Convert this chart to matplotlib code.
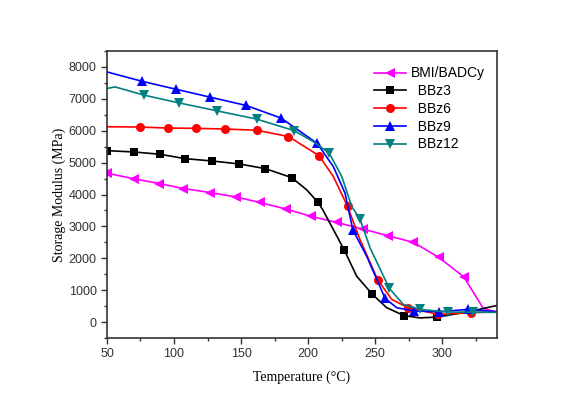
import matplotlib
matplotlib.use("Agg")
import matplotlib.pyplot as plt
from matplotlib.ticker import MultipleLocator

# ---- data (T in °C, E' in MPa) ----
bmi_T = [50, 70.4, 89.0, 106.9, 126.9, 146.3, 164.2, 183.6, 202.5, 221.4, 240.8, 259.5, 278.6, 297.5, 316.2, 330.8, 341]
bmi_E = [4669, 4491, 4344, 4188, 4063, 3922, 3750, 3544, 3313, 3125, 2919, 2709, 2500, 2031, 1419, 428, 313]
bmi_mk = list(range(0, 15))

bbz3_T = [50, 70.1, 89.6, 108.2, 128.1, 148.5, 168.1, 187.8, 199.0, 207.4, 211.0, 227.0, 236.3, 248.1, 258.7, 271.8, 283.6, 296.5, 320.9, 341]
bbz3_E = [5375, 5334, 5262, 5125, 5053, 4959, 4812, 4531, 4147, 3756, 3522, 2263, 1438, 866, 450, 200, 131, 156, 334, 520]
bbz3_mk = [0, 1, 2, 3, 4, 5, 6, 7, 9, 11, 13, 15, 17]

bbz6_T = [50, 74.6, 95.3, 116.4, 138.1, 161.7, 185.4, 208.2, 218.9, 229.5, 238.8, 252.0, 262.5, 274.6, 297.2, 321.4, 341]
bbz6_E = [6125, 6116, 6084, 6075, 6053, 6016, 5819, 5219, 4563, 3625, 2584, 1325, 709, 450, 241, 294, 319]
bbz6_mk = [1, 2, 3, 4, 5, 6, 7, 9, 11, 13, 14, 15]

bbz9_T = [50, 75.9, 101.3, 126.9, 153.7, 179.9, 206.9, 218.9, 227.6, 233.4, 243.8, 257.5, 266.2, 279.3, 297.8, 319.2, 341]
bbz9_E = [7844, 7553, 7303, 7053, 6794, 6397, 5600, 4875, 4044, 2897, 2063, 741, 450, 344, 325, 397, 325]
bbz9_mk = [1, 2, 3, 4, 5, 6, 9, 11, 13, 14, 15]

bbz12_T = [50, 56, 77.6, 103.5, 131.9, 161.7, 189.8, 204.0, 215.9, 225.2, 232.6, 238.8, 246.3, 260.7, 271.1, 283.6, 304.3, 323.4, 341]
bbz12_E = [7325, 7375, 7116, 6875, 6625, 6366, 6000, 5656, 5294, 4563, 3625, 3231, 2325, 1053, 553, 397, 313, 313, 303]
bbz12_mk = [2, 3, 4, 5, 6, 8, 11, 13, 15, 16, 17]

series = [
    ("BMI/BADCy", bmi_T, bmi_E, bmi_mk, "#ff00ff", "<", 6.5),
    ("  BBz3", bbz3_T, bbz3_E, bbz3_mk, "#000000", "s", 5.3),
    ("  BBz6", bbz6_T, bbz6_E, bbz6_mk, "#ff0000", "o", 6.5),
    ("  BBz9", bbz9_T, bbz9_E, bbz9_mk, "#0000ff", "^", 6.5),
    ("  BBz12", bbz12_T, bbz12_E, bbz12_mk, "#008080", "v", 6.5),
]

xticks = [50, 100, 150, 200, 250, 300]
yticks = [0, 1000, 2000, 3000, 4000, 5000, 6000, 7000, 8000]

fig = plt.figure(figsize=(5.64, 3.97), dpi=100)
ax = fig.add_axes([0.1897, 0.1486, 0.6915, 0.7229])

for label, T, E, mk, col, m, ms in series:
    ax.plot(T, E, color=col, lw=1.2, marker=m, markevery=mk, markersize=ms,
            markeredgewidth=0, label=label, clip_on=True)

ax.set_xlim(50, 341)
ax.set_ylim(-500, 8500)
ax.set_xticks(xticks)
ax.set_yticks(yticks)
ax.xaxis.set_minor_locator(MultipleLocator(25))
ax.yaxis.set_minor_locator(MultipleLocator(500))
ax.tick_params(which="major", direction="out", length=4, width=1, colors="#333333",
               labelsize=9, labelcolor="#333333")
ax.tick_params(which="minor", direction="out", length=2.5, width=1, colors="#333333")
for lab in ax.get_xticklabels() + ax.get_yticklabels():
    lab.set_fontfamily("Liberation Sans")
for s in ax.spines.values():
    s.set_linewidth(1.2)
    s.set_color("#333333")

ax.set_xlabel("Temperature (°C)", fontfamily="Liberation Serif", fontsize=10, labelpad=7)
ax.set_ylabel("Storage Modulus (MPa)", fontfamily="Liberation Serif", fontsize=10, labelpad=2)

leg = ax.legend(loc="upper right", bbox_to_anchor=(1.0, 0.99), frameon=False,
                prop={"family": "Liberation Sans", "size": 10}, handlelength=2.3,
                handletextpad=0.3, labelspacing=0.27)

fig.savefig("out.png", dpi=100)
